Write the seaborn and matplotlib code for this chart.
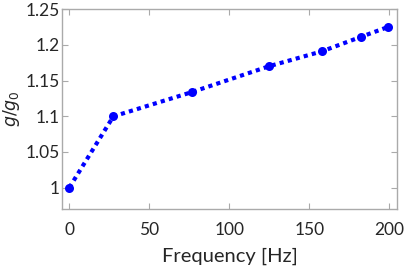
"""g/g0 em função da frequência."""

import matplotlib

matplotlib.use("Agg")
import matplotlib.pyplot as plt
import pandas as pd
import seaborn as sns

frequency_hz = [0, 27.5, 76.9, 124.8, 158, 182, 198.8]
g_ratio = [1.0, 1.0997, 1.134, 1.170, 1.191, 1.211, 1.2247]
x_ticks = [0, 50, 100, 150, 200]
y_ticks = [1.0, 1.05, 1.1, 1.15, 1.2, 1.25]
y_tick_labels = ["1", "1.05", "1.1", "1.15", "1.2", "1.25"]

sns.set_style("ticks")
plt.rcParams["font.family"] = ["Lato", "DejaVu Sans"]
plt.rcParams["mathtext.fontset"] = "dejavusans"

df = pd.DataFrame({"FREQ": frequency_hz, "G": g_ratio})

fig, ax = plt.subplots(figsize=(4.07, 2.68), dpi=100)
sns.lineplot(
    data=df,
    x="FREQ",
    y="G",
    color="#0000ff",
    linestyle=(0, (1, 1)),
    linewidth=3,
    marker="o",
    markersize=6.5,
    markeredgewidth=0,
    ax=ax,
)
ax.set_xlim(-4.4, 204.6)
ax.set_ylim(0.97, 1.25)
ax.set_xticks(x_ticks)
ax.set_yticks(y_ticks)
ax.set_yticklabels(y_tick_labels)
ax.tick_params(
    direction="in",
    top=True,
    right=True,
    color="#aaaaaa",
    length=4,
    width=0.8,
    labelsize=12.5,
)
ax.tick_params(axis="x", pad=9)
ax.tick_params(axis="y", pad=2)
for s in ax.spines.values():
    s.set_color("#aaaaaa")
    s.set_linewidth(1)
ax.set_xlabel("Frequency [Hz]", fontsize=14.5, labelpad=7)
ax.set_ylabel(r"$g/g_0$", fontsize=12.5)
ax.yaxis.set_label_coords(-0.12, 0.5)

fig.subplots_adjust(left=0.153, right=0.975, top=0.966, bottom=0.22)
fig.savefig("out.png", dpi=100)
